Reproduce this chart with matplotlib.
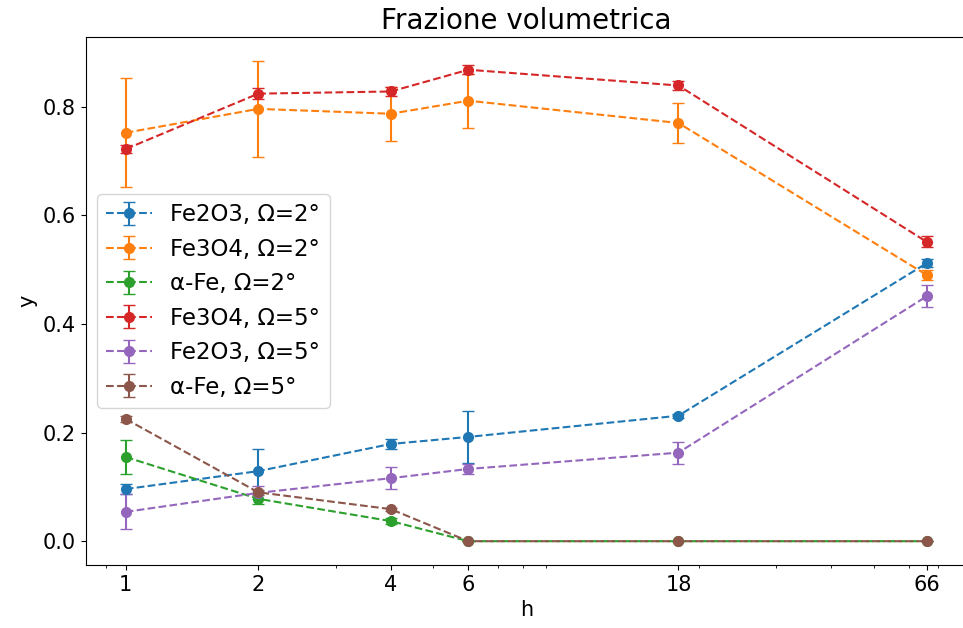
import matplotlib
matplotlib.use('Agg')
import matplotlib.pyplot as plt
from matplotlib.ticker import FixedLocator, NullFormatter

hours = [1, 2, 4, 6, 18, 66]

labels = ['Fe2O3, Ω=2°', 'Fe3O4, Ω=2°', 'α-Fe, Ω=2°',
          'Fe3O4, Ω=5°', 'Fe2O3, Ω=5°', 'α-Fe, Ω=5°']

fe2o3_2 = [0.096, 0.129, 0.179, 0.192, 0.231, 0.512]
fe2o3_2_err = [0.010, 0.040, 0.010, 0.048, 0.004, 0.008]

fe3o4_2 = [0.752, 0.796, 0.787, 0.811, 0.770, 0.490]
fe3o4_2_err = [0.100, 0.088, 0.050, 0.050, 0.036, 0.010]

afe_2 = [0.155, 0.078, 0.037, 0.0, 0.0, 0.0]
afe_2_err = [0.031, 0.010, 0.005, 0.0, 0.0, 0.0]

fe3o4_5 = [0.722, 0.824, 0.828, 0.868, 0.839, 0.551]
fe3o4_5_err = [0.008, 0.010, 0.008, 0.008, 0.008, 0.010]

fe2o3_5 = [0.054, 0.089, 0.116, 0.133, 0.163, 0.451]
fe2o3_5_err = [0.032, 0.012, 0.020, 0.010, 0.020, 0.020]

afe_5 = [0.225, 0.090, 0.059, 0.0, 0.0, 0.0]
afe_5_err = [0.005, 0.005, 0.003, 0.0, 0.0, 0.0]

series = [(fe2o3_2, fe2o3_2_err), (fe3o4_2, fe3o4_2_err), (afe_2, afe_2_err),
          (fe3o4_5, fe3o4_5_err), (fe2o3_5, fe2o3_5_err), (afe_5, afe_5_err)]

plt.rcParams['font.size'] = 15

fig, ax = plt.subplots(figsize=(9.63, 6.28), dpi=100)
# the original picture is cropped just inside the right spine
fig.subplots_adjust(left=0.089, right=1.004, bottom=0.100, top=0.941)

for (y, err), lab in zip(series, labels):
    ax.errorbar(hours, y, yerr=err, fmt='o--', capsize=4.5, markersize=7, label=lab)

ax.set_xscale('log')
ax.xaxis.set_major_locator(FixedLocator(hours))
ax.set_xticklabels([str(h) for h in hours])
ax.xaxis.set_minor_formatter(NullFormatter())

ax.set_title('Frazione volumetrica', fontsize=20)
ax.set_xlabel('h')
ax.set_ylabel('y')
ax.legend(loc='center left', fontsize=16.5)

fig.savefig('out.png')
